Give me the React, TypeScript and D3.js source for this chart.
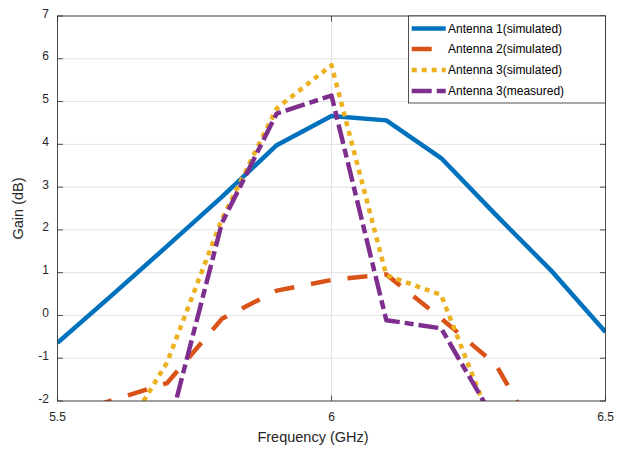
import * as d3 from "d3";
import React from "react";

// frequency points (GHz)
const freq = [5.5, 5.6, 5.7, 5.8, 5.9, 6.0, 6.1, 6.2, 6.3, 6.4, 6.5];

// gain (dB), null where the curve has no point
const ant1Sim = [-0.64, 0.48, 1.62, 2.77, 3.98, 4.66, 4.56, 3.68, 2.35, 1.06, -0.39];
const ant2Sim = [-2.4, -1.98, -1.58, -0.08, 0.58, 0.83, 0.96, -0.07, -1.15, -3.4, null];
const ant3Sim = [null, -3.2, -1.1, 2.25, 4.84, 5.85, 0.94, 0.48, -2.8, null, null];
const ant3Meas = [null, null, -2.8, 2.16, 4.72, 5.14, -0.11, -0.3, -2.5, null, null];

const seriesNames = [
  "Antenna 1(simulated)",
  "Antenna 2(simulated)",
  "Antenna 3(simulated)",
  "Antenna 3(measured)",
];

const xTicks = [5.5, 6, 6.5];
const yTicks = [-2, -1, 0, 1, 2, 3, 4, 5, 6, 7];

const W = 627,
  H = 452;
const left = 57.5,
  right = 605.5,
  top = 16,
  bottom = 401;

const styles = [
  { color: "#0072BD", dash: null },
  { color: "#D95319", dash: "20 17" },
  { color: "#EDB120", dash: "5 5" },
  { color: "#7E2F8E", dash: "20 5 9 5" },
];

const axisColor = "#262626";
const font = "'Liberation Sans', Arial, Helvetica, sans-serif";

export default function App() {
  const x = d3.scaleLinear().domain([5.5, 6.5]).range([left, right]);
  const y = d3.scaleLinear().domain([-2, 7]).range([bottom, top]);

  const line = d3
    .line<[number, number | null]>()
    .defined((d) => d[1] != null)
    .x((d) => x(d[0]))
    .y((d) => y(d[1] as number));

  const all = [ant1Sim, ant2Sim, ant3Sim, ant3Meas];

  const legendX0 = 411.7,
    legendX1 = 445.7;
  const legendRows = [28.5, 49, 70, 91];

  return (
    <svg
      width={W}
      height={H}
      style={{ position: "absolute", left: 0, top: 0, background: "#fff" }}
      fontFamily={font}
    >
      <defs>
        <clipPath id="plotClip">
          <rect x={left} y={top} width={right - left} height={bottom - top} />
        </clipPath>
      </defs>
      <rect x={left} y={top} width={right - left} height={bottom - top} fill="#fff" />

      {/* grid */}
      {yTicks.map((t) => (
        <line key={"gy" + t} x1={left} x2={right} y1={y(t)} y2={y(t)} stroke="#e3e3e3" strokeWidth={1} />
      ))}
      {xTicks.map((t) => (
        <line key={"gx" + t} x1={x(t)} x2={x(t)} y1={top} y2={bottom} stroke="#e3e3e3" strokeWidth={1} />
      ))}

      {/* curves */}
      <g clipPath="url(#plotClip)">
        {all.map((vals, i) => (
          <path
            key={i}
            d={line(freq.map((f, j) => [f, vals[j]])) || ""}
            fill="none"
            stroke={styles[i].color}
            strokeWidth={4.5}
            strokeDasharray={styles[i].dash || undefined}
            strokeLinejoin="round"
          />
        ))}
      </g>

      {/* box + ticks */}
      <rect x={left} y={top} width={right - left} height={bottom - top} fill="none" stroke={axisColor} strokeWidth={0.8} />
      {yTicks.map((t) => (
        <g key={"ty" + t}>
          <line x1={left} x2={left + 5.5} y1={y(t)} y2={y(t)} stroke={axisColor} strokeWidth={0.8} />
          <line x1={right - 5.5} x2={right} y1={y(t)} y2={y(t)} stroke={axisColor} strokeWidth={0.8} />
          <text x={49} y={y(t) + 1.5} textAnchor="end" fontSize={12} fill={axisColor}>
            {t}
          </text>
        </g>
      ))}
      {xTicks.map((t) => (
        <g key={"tx" + t}>
          <line x1={x(t)} x2={x(t)} y1={bottom} y2={bottom - 5.5} stroke={axisColor} strokeWidth={0.8} />
          <line x1={x(t)} x2={x(t)} y1={top} y2={top + 5.5} stroke={axisColor} strokeWidth={0.8} />
          <text x={x(t)} y={421} textAnchor="middle" fontSize={12} fill={axisColor}>
            {t}
          </text>
        </g>
      ))}

      {/* axis labels */}
      <text x={313} y={442} textAnchor="middle" fontSize={14.5} fill={axisColor}>
        Frequency (GHz)
      </text>
      <text
        transform={`translate(23,${(top + bottom) / 2}) rotate(-90)`}
        textAnchor="middle"
        fontSize={14.5}
        fill={axisColor}
      >
        Gain (dB)
      </text>

      {/* legend */}
      <rect x={408.5} y={top} width={right - 408.5} height={103 - top} fill="#fff" stroke={axisColor} strokeWidth={0.8} />
      {seriesNames.map((name, i) => (
        <g key={name}>
          <line
            x1={legendX0}
            x2={legendX1}
            y1={legendRows[i]}
            y2={legendRows[i]}
            stroke={styles[i].color}
            strokeWidth={4.5}
            strokeDasharray={styles[i].dash || undefined}
          />
          <text x={448} y={legendRows[i] + 4.2} fontSize={12} fill="#000">
            {name}
          </text>
        </g>
      ))}
    </svg>
  );
}
